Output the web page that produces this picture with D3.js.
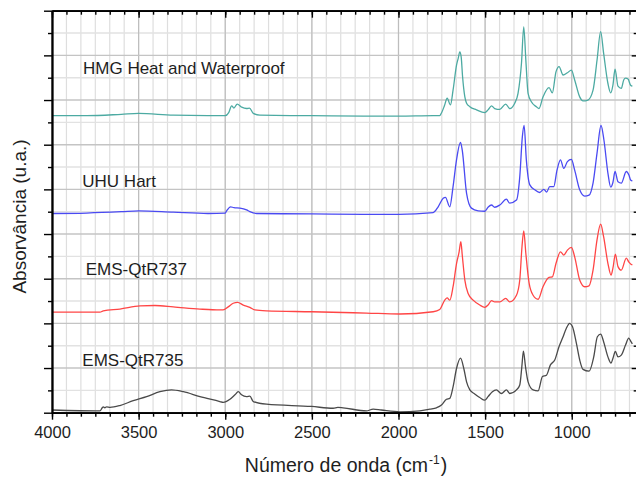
<!DOCTYPE html>
<html>
<head>
<meta charset="utf-8">
<script src="https://cdn.jsdelivr.net/npm/d3@7"></script>
<style>
  html, body { margin: 0; padding: 0; background: #fff; }
  svg { display: block; font-family: "Liberation Sans", Arial, sans-serif; }
</style>
</head>
<body>
<svg id="chart" width="636" height="479"></svg>
<script>
// FTIR spectra (wavenumber cm-1, absorbance offset in u.a.)
const hmg = [[4000,6.65],[3800,6.65],[3600,6.68],[3500,6.70],[3300,6.66],[3100,6.65],[3000,6.65],[2980,6.72],[2963,6.87],[2950,6.82],[2931,6.91],[2905,6.84],[2877,6.81],[2860,6.82],[2838,6.70],[2800,6.66],[2500,6.65],[2200,6.64],[2000,6.64],[1800,6.65],[1762,6.65],[1752,6.71],[1735,6.87],[1719,7.04],[1700,6.89],[1685,7.22],[1665,7.78],[1655,7.94],[1646,8.08],[1638,7.96],[1630,7.52],[1617,7.07],[1607,6.93],[1588,6.85],[1550,6.78],[1502,6.72],[1483,6.78],[1463,6.87],[1445,6.81],[1415,6.79],[1381,6.91],[1358,6.81],[1329,6.93],[1310,7.15],[1290,7.83],[1277,8.64],[1265,7.90],[1252,7.15],[1233,6.96],[1204,6.85],[1189,6.81],[1166,7.07],[1131,7.28],[1112,7.16],[1091,7.63],[1073,7.75],[1050,7.56],[1025,7.61],[1002,7.67],[983,7.45],[954,7.07],[935,6.98],[906,7.00],[877,7.22],[854,7.89],[833,8.53],[816,8.05],[791,7.37],[775,7.16],[762,7.34],[750,7.69],[733,7.31],[714,7.26],[700,7.45],[689,7.49],[675,7.47],[660,7.33],[650,7.31]];

const uhu = [[4000,4.46],[3800,4.47],[3600,4.50],[3500,4.52],[3300,4.49],[3100,4.46],[3000,4.47],[2992,4.52],[2969,4.61],[2950,4.59],[2915,4.58],[2877,4.54],[2858,4.50],[2819,4.46],[2500,4.45],[2200,4.44],[2000,4.44],[1800,4.48],[1771,4.61],[1742,4.80],[1729,4.82],[1704,4.61],[1685,5.06],[1665,5.66],[1642,6.05],[1632,5.88],[1607,4.91],[1579,4.58],[1540,4.52],[1502,4.51],[1483,4.60],[1463,4.65],[1445,4.60],[1415,4.65],[1377,4.78],[1358,4.69],[1319,4.76],[1300,5.28],[1285,6.18],[1275,6.43],[1262,5.66],[1242,5.10],[1213,4.99],[1185,4.93],[1161,5.00],[1145,4.94],[1127,5.06],[1104,5.06],[1085,5.43],[1065,5.66],[1046,5.47],[1025,5.62],[1002,5.67],[983,5.43],[954,4.99],[925,4.85],[900,4.87],[877,5.14],[854,5.81],[831,6.43],[814,6.10],[791,5.36],[775,5.05],[762,5.16],[750,5.40],[733,5.17],[714,5.14],[685,5.40],[670,5.32],[660,5.21],[650,5.19]];

const ems737 = [[4000,2.25],[3723,2.25],[3704,2.28],[3608,2.32],[3492,2.39],[3406,2.40],[3300,2.37],[3146,2.32],[3031,2.30],[3012,2.30],[2983,2.37],[2954,2.45],[2929,2.47],[2896,2.41],[2858,2.36],[2829,2.30],[2762,2.28],[2502,2.26],[2185,2.23],[1992,2.21],[1800,2.26],[1762,2.31],[1733,2.52],[1719,2.57],[1704,2.52],[1685,2.82],[1665,3.34],[1650,3.60],[1640,3.83],[1632,3.53],[1617,2.97],[1598,2.67],[1569,2.52],[1531,2.41],[1502,2.36],[1483,2.41],[1463,2.51],[1445,2.48],[1415,2.48],[1381,2.56],[1358,2.48],[1319,2.63],[1300,2.97],[1287,3.72],[1277,4.07],[1265,3.57],[1246,2.90],[1223,2.63],[1194,2.54],[1166,2.82],[1131,3.03],[1112,3.04],[1091,3.34],[1065,3.60],[1046,3.53],[1025,3.64],[1002,3.70],[983,3.49],[954,2.97],[925,2.82],[900,2.84],[877,3.19],[854,3.87],[833,4.22],[816,3.94],[791,3.34],[773,3.08],[762,3.24],[748,3.55],[733,3.27],[714,3.19],[685,3.46],[670,3.37],[660,3.33],[650,3.31]];

const ems735 = [[4000,0.06],[3723,0.04],[3710,0.11],[3704,0.13],[3695,0.11],[3685,0.13],[3665,0.12],[3608,0.16],[3531,0.27],[3454,0.36],[3377,0.47],[3310,0.51],[3242,0.47],[3146,0.36],[3031,0.25],[3012,0.23],[2973,0.30],[2944,0.40],[2925,0.47],[2906,0.40],[2877,0.36],[2858,0.37],[2838,0.25],[2762,0.19],[2502,0.14],[2377,0.10],[2350,0.12],[2320,0.11],[2185,0.04],[2146,0.08],[2100,0.06],[1992,0.02],[1877,0.04],[1819,0.08],[1781,0.11],[1752,0.17],[1723,0.30],[1704,0.32],[1685,0.58],[1665,0.99],[1642,1.22],[1623,0.99],[1607,0.69],[1588,0.51],[1560,0.42],[1531,0.34],[1502,0.28],[1483,0.36],[1458,0.47],[1435,0.51],[1406,0.43],[1377,0.51],[1358,0.43],[1319,0.51],[1300,0.62],[1288,1.03],[1279,1.38],[1267,1.03],[1252,0.69],[1223,0.51],[1194,0.49],[1169,0.81],[1146,0.84],[1123,1.07],[1098,1.18],[1073,1.48],[1050,1.70],[1031,1.89],[1012,2.00],[996,1.93],[973,1.55],[954,1.18],[935,0.97],[900,0.93],[873,1.25],[852,1.70],[833,1.76],[816,1.59],[791,1.25],[773,1.11],[762,1.22],[748,1.37],[733,1.25],[714,1.29],[689,1.52],[671,1.67],[658,1.59],[650,1.54]];

const seriesNames = ["HMG Heat and Waterproof", "UHU Hart", "EMS-QtR737", "EMS-QtR735"];
const seriesData = [hmg, uhu, ems737, ems735];
const seriesColors = ["#4caaa2", "#4a4af2", "#ff4545", "#4a4a4a"];
// where each name sits: [wavenumber, absorbance] of the text's left baseline
const labelAnchors = [[3821, 7.58], [3825, 5.06], [3805, 3.08], [3825, 1.05]];

const xMajorTicks = [4000, 3500, 3000, 2500, 2000, 1500, 1000];
const xMinorTicks = d3.range(0, 41).map(i => 4000 - i * 500 / 6).filter(v => v > 625);
const yMajorTicks = d3.range(0, 10);
const yMinorTicks = d3.range(0, 9).map(i => i + 0.5);

(function draw() {
  const svg = d3.select("#chart");
  const x = d3.scaleLinear().domain([4000, 625]).range([52, 636.7]);
  const y = d3.scaleLinear().domain([0, 9]).range([412.7, 10.7]);
  const [x0, x1] = x.range();
  const [y0, y1] = y.range();

  // grid
  const grid = svg.append("g");
  grid.selectAll("line.vmin").data(xMinorTicks).join("line")
    .attr("x1", d => x(d)).attr("x2", d => x(d)).attr("y1", y0).attr("y2", y1)
    .attr("stroke", "#dedede").attr("stroke-width", 1.2);
  grid.selectAll("line.hmin").data(yMinorTicks).join("line")
    .attr("x1", x0).attr("x2", x1).attr("y1", d => y(d)).attr("y2", d => y(d))
    .attr("stroke", "#e2e2e2").attr("stroke-width", 1.4);
  grid.selectAll("line.vmaj").data(xMajorTicks).join("line")
    .attr("x1", d => x(d)).attr("x2", d => x(d)).attr("y1", y0).attr("y2", y1)
    .attr("stroke", "#bdbdbd").attr("stroke-width", 1.2);
  grid.selectAll("line.hmaj").data(yMajorTicks).join("line")
    .attr("x1", x0).attr("x2", x1).attr("y1", d => y(d)).attr("y2", d => y(d))
    .attr("stroke", "#c4c4c4").attr("stroke-width", 1.4);

  // spectra
  const line = d3.line()
    .x(d => x(d[0]))
    .y(d => y(d[1]))
    .curve(d3.curveMonotoneX);

  svg.append("g").selectAll("path").data(seriesData).join("path")
    .attr("d", d => line(d.slice().sort((a, b) => b[0] - a[0])))
    .attr("fill", "none")
    .attr("stroke", (d, i) => seriesColors[i])
    .attr("stroke-width", 1.3)
    .attr("stroke-linejoin", "round");

  // series names
  svg.append("g").selectAll("text").data(seriesNames).join("text")
    .attr("x", (d, i) => x(labelAnchors[i][0]))
    .attr("y", (d, i) => y(labelAnchors[i][1]))
    .attr("font-size", 17)
    .attr("fill", "#1e1e1e")
    .text(d => d);

  // axes
  function styleAxis(g) {
    g.select(".domain").attr("stroke", "#000").attr("stroke-width", 1.8);
    g.selectAll(".tick line").attr("stroke", "#000").attr("stroke-width", 1.4);
  }
  function addAxis(axis, tx, ty) {
    const g = svg.append("g").attr("transform", `translate(${tx},${ty})`).call(axis);
    styleAxis(g);
    return g;
  }

  const bottomAxis = addAxis(d3.axisBottom(x).tickValues(xMajorTicks).tickSize(7).tickSizeOuter(0)
    .tickFormat(d3.format("d")).tickPadding(7), 0, y0);
  bottomAxis.selectAll(".tick text").attr("font-size", 16.5).attr("fill", "#1e1e1e")
    .attr("font-family", "Liberation Sans, Arial, sans-serif");
  addAxis(d3.axisBottom(x).tickValues(xMinorTicks).tickSize(4).tickSizeOuter(0).tickFormat(""), 0, y0);

  addAxis(d3.axisTop(x).tickValues(xMajorTicks).tickSize(-7).tickSizeOuter(0).tickFormat(""), 0, y1);
  addAxis(d3.axisTop(x).tickValues(xMinorTicks).tickSize(-4).tickSizeOuter(0).tickFormat(""), 0, y1);

  addAxis(d3.axisLeft(y).tickValues(yMajorTicks).tickSize(8).tickSizeOuter(0).tickFormat(""), x0, 0);
  addAxis(d3.axisLeft(y).tickValues(yMinorTicks).tickSize(4).tickSizeOuter(0).tickFormat(""), x0, 0);

  addAxis(d3.axisRight(y).tickValues(yMajorTicks).tickSize(-5).tickSizeOuter(0).tickFormat(""), x1, 0);
  addAxis(d3.axisRight(y).tickValues(yMinorTicks).tickSize(-3).tickSizeOuter(0).tickFormat(""), x1, 0);

  // axis titles
  const xTitle = svg.append("text")
    .attr("x", 346).attr("y", 472)
    .attr("text-anchor", "middle")
    .attr("font-size", 19.5).attr("fill", "#1e1e1e");
  xTitle.append("tspan").text("Número de onda (cm");
  xTitle.append("tspan").attr("font-size", 12).attr("dy", -8).attr("dx", 1).text("-1");
  xTitle.append("tspan").attr("dy", 8).attr("dx", 1).text(")");

  svg.append("text")
    .attr("transform", "translate(25.5,216.5) rotate(-90)")
    .attr("text-anchor", "middle")
    .attr("font-size", 19).attr("fill", "#1e1e1e")
    .text("Absorvância (u.a.)");
})();
</script>
</body>
</html>
